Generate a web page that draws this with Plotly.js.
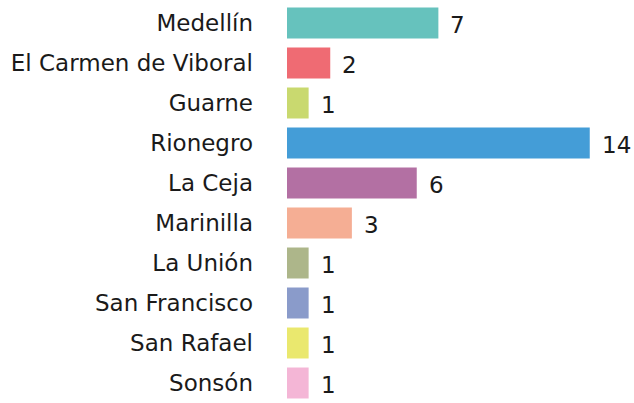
<!DOCTYPE html>
<html><head><meta charset="utf-8">
<script src="https://cdn.plot.ly/plotly-3.0.1.min.js"></script>
<style>html,body{margin:0;padding:0;background:#fff}#chart{width:634px;height:403px}</style>
</head><body><div id="chart"></div>
<script>
const categories = ["Medellín","El Carmen de Viboral","Guarne","Rionegro","La Ceja","Marinilla","La Unión","San Francisco","San Rafael","Sonsón"];
const values = [7,2,1,14,6,3,1,1,1,1];
const colors = ["#66C2BD","#EF6B73","#C9D96F","#449DD7","#B370A3","#F5AE94","#ADB68A","#8A9BCA","#EAE86E","#F4B6D6"];
const font = "'DejaVu Sans', sans-serif";
const trace = {
  type: "bar", orientation: "h", x: values, y: categories,
  marker: {color: colors}, hoverinfo: "none"
};
const annotations = values.map((v,i)=>({
  x: v, y: categories[i], xref: "x", yref: "y", text: String(v),
  showarrow: false, xanchor: "left", xshift: 10, yshift: -2,
  font: {family: font, size: 23, color: "#1a1a1a"}
}));
Plotly.newPlot("chart", [trace], {
  width: 634, height: 403,
  margin: {l: 287, r: 1, t: 3, b: 0},
  paper_bgcolor: "#fff", plot_bgcolor: "#fff",
  bargap: 0.225, showlegend: false,
  xaxis: {range: [0,16], visible: false, fixedrange: true},
  yaxis: {autorange: "reversed", showgrid: false, zeroline: false, showline: false, ticks: "",
          ticklabelstandoff: 33, tickfont: {family: font, size: 23, color: "#1a1a1a"}},
  annotations: annotations
}, {staticPlot: true});
</script></body></html>
